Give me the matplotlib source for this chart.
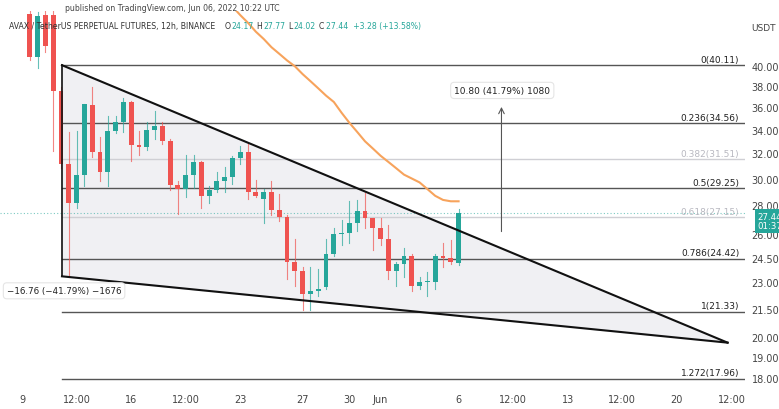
import numpy as np
import matplotlib.pyplot as plt
from matplotlib.ticker import FixedLocator, NullLocator

# 12h candles, index 0 = May 9 00:00
idx = list(range(1, 57))
opens = [45.7, 41.0, 45.6, 45.6, 37.5, 31.1, 28.2, 30.3, 36.2, 32.1, 30.5, 33.9, 34.7, 36.5,
         32.7, 32.5, 34.0, 34.3, 33.0, 29.5, 29.2, 30.3, 31.3, 28.7, 29.1, 29.8, 30.1, 31.6,
         32.1, 29.0, 28.5, 29.0, 27.7, 27.2, 24.2, 23.7, 22.3, 22.5, 22.7, 24.7, 26.0, 26.1,
         26.8, 27.6, 27.1, 26.4, 25.7, 23.7, 24.1, 24.6, 22.8, 23.0, 23.0, 24.6, 24.5, 24.17]
highs = [46.5, 46.0, 46.2, 46.5, 37.9, 33.8, 33.9, 36.3, 37.9, 33.4, 35.2, 35.2, 36.9, 36.6,
         33.9, 34.7, 35.7, 34.7, 33.2, 29.8, 31.9, 31.9, 31.4, 29.4, 30.5, 30.9, 31.8, 32.6,
         32.9, 29.9, 29.2, 29.8, 28.8, 27.3, 25.7, 23.9, 23.9, 23.8, 25.7, 26.4, 27.0, 28.3,
         28.4, 28.9, 27.1, 27.1, 26.6, 24.2, 25.1, 24.7, 23.3, 23.6, 24.7, 25.4, 25.6, 27.77]
lows = [40.6, 39.8, 41.5, 32.2, 30.8, 23.3, 27.8, 29.4, 31.7, 29.8, 29.4, 33.7, 33.8, 31.4,
        31.9, 32.3, 33.2, 32.8, 29.1, 27.4, 28.6, 29.3, 27.8, 28.2, 29.0, 29.0, 29.6, 31.1,
        28.5, 28.6, 26.8, 27.3, 26.9, 23.2, 22.8, 21.4, 21.4, 22.2, 22.6, 24.6, 25.3, 25.4,
        26.2, 26.4, 25.0, 25.3, 23.2, 22.8, 23.3, 22.5, 22.6, 22.2, 22.6, 23.9, 24.1, 24.02]
closes = [41.0, 45.5, 42.1, 37.5, 31.1, 28.2, 30.3, 36.3, 32.1, 30.5, 33.9, 34.7, 36.5, 32.7,
          32.5, 34.0, 34.3, 33.0, 29.5, 29.2, 30.3, 31.3, 28.7, 29.1, 29.8, 30.1, 31.6, 32.1,
          29.0, 28.7, 29.0, 27.7, 27.2, 24.2, 23.7, 22.3, 22.5, 22.6, 24.7, 26.0, 26.1, 26.8,
          27.6, 27.1, 26.4, 25.7, 23.7, 24.1, 24.6, 22.8, 23.0, 23.0, 24.6, 24.5, 24.2, 27.44]

ma_idx = list(range(27, 57))
ma_vals = [46.6, 45.6, 44.7, 43.7, 42.9, 42.0, 41.3, 40.6, 40.0, 39.2, 38.5, 37.8, 37.1, 36.5, 35.5,
           34.6, 33.8, 33.0, 32.4, 31.8, 31.3, 30.8, 30.3, 30.0, 29.7, 29.2, 28.7, 28.4, 28.3, 28.3]

fib_levels = [40.11, 34.56, 31.51, 29.25, 27.15, 24.42, 21.33, 17.96]
fib_labels = ['0(40.11)', '0.236(34.56)', '0.382(31.51)', '0.5(29.25)', '0.618(27.15)',
              '0.786(24.42)', '1(21.33)', '1.272(17.96)']
fib_faint = [False, False, True, False, True, False, False, False]

wedge_start = 5.13
wedge_top = 40.11
wedge_bottom = 23.35
wedge_tip = (90.5, 19.7)

yticks = [40, 38, 36, 34, 32, 30, 28, 26, 24.5, 23, 21.5, 20, 19, 18]
xtick_pos = [0, 7, 14, 21, 28, 36, 42, 46, 56, 63, 70, 77, 84, 91]
xtick_lab = ['9', '12:00', '16', '12:00', '23', '27', '30', 'Jun', '6', '12:00', '13', '12:00', '20', '12:00']

GREEN = '#26a69a'
RED = '#ef5350'

fig = plt.figure(figsize=(7.79, 4.10), dpi=100)
ax = fig.add_axes([0, 0.054, 0.956, 0.916])
ax.set_yscale('log')
ax.set_xlim(-2.82, 92.7)
ax.set_ylim(17.59, 46.05)

# wedge
ax.fill([wedge_start, wedge_start, wedge_tip[0]], [wedge_top, wedge_bottom, wedge_tip[1]],
        color='#f0f0f3', zorder=0)
ax.plot([wedge_start, wedge_tip[0]], [wedge_top, wedge_tip[1]], color='#111', lw=1.5, zorder=3)
ax.plot([wedge_start, wedge_tip[0]], [wedge_bottom, wedge_tip[1]], color='#111', lw=1.5, zorder=3)
ax.plot([wedge_start, wedge_start], [wedge_top, wedge_bottom], color='#111', lw=1.2, zorder=3)

# fib retracement
for lv, lab, faint in zip(fib_levels, fib_labels, fib_faint):
    c = '#cfcfd4' if faint else '#555'
    ax.plot([wedge_start, 92.7], [lv, lv], color=c, lw=1.0, zorder=1)
    ax.text(92.0, lv * 1.004, lab, ha='right', va='bottom', fontsize=6.5,
            color='#b8b8c0' if faint else '#222', zorder=5)

# candles
for i, o, h, l, c in zip(idx, opens, highs, lows, closes):
    col = GREEN if c >= o else RED
    ax.plot([i, i], [l, h], color=col, lw=0.8, alpha=0.7, zorder=2)
    ax.bar(i, abs(c - o) if abs(c - o) > 0.05 else 0.08, bottom=min(o, c), width=0.62,
           color=col, zorder=2.5)

# moving average
ax.plot(ma_idx, ma_vals, color='#f7a35c', lw=1.5, zorder=4)

# current price line
ax.axhline(27.44, color=GREEN, lw=0.8, ls=(0, (1, 2)), alpha=0.6, zorder=1)

# price range measure
ax.annotate('', xy=(61.5, 36.3), xytext=(61.5, 26.0),
            arrowprops=dict(arrowstyle='->', color='#555', lw=0.8))
ax.text(61.6, 37.6, '10.80 (41.79%) 1080', ha='center', va='center', fontsize=6.5, color='#222',
        bbox=dict(boxstyle='round,pad=0.4', fc='white', ec='#e5e5e5', lw=0.8))
ax.text(5.4, 22.5, '\u221216.76 (\u221241.79%) \u22121676', ha='center', va='center', fontsize=6.3,
        color='#222', bbox=dict(boxstyle='round,pad=0.4', fc='white', ec='#e5e5e5', lw=0.8))

# axes styling
for s in ax.spines.values():
    s.set_visible(False)
ax.yaxis.tick_right()
ax.yaxis.set_major_locator(FixedLocator(yticks))
ax.yaxis.set_minor_locator(NullLocator())
ax.set_yticklabels(['%.2f' % t for t in yticks], fontsize=7, color='#444')
ax.set_xticks(xtick_pos)
ax.set_xticklabels(xtick_lab, fontsize=7, color='#444')
ax.tick_params(length=0, pad=5)

ax.text(94.3, 26.9, '27.44\n01:37:4', fontsize=6.2, color='white', ha='left', va='center',
        linespacing=1.1, bbox=dict(boxstyle='square,pad=0.3', fc=GREEN, ec='none'),
        clip_on=False)

hy = 0.935
fs = 5.6
fig.text(0.012, hy, 'AVAX / TetherUS PERPETUAL FUTURES, 12h, BINANCE', fontsize=fs, color='#333', va='center')
fig.text(0.288, hy, 'O', fontsize=fs, color='#333', va='center')
fig.text(0.297, hy, '24.17', fontsize=fs, color=GREEN, va='center')
fig.text(0.329, hy, 'H', fontsize=fs, color='#333', va='center')
fig.text(0.338, hy, '27.77', fontsize=fs, color=GREEN, va='center')
fig.text(0.370, hy, 'L', fontsize=fs, color='#333', va='center')
fig.text(0.377, hy, '24.02', fontsize=fs, color=GREEN, va='center')
fig.text(0.409, hy, 'C', fontsize=fs, color='#333', va='center')
fig.text(0.418, hy, '27.44  +3.28 (+13.58%)', fontsize=fs, color=GREEN, va='center')
fig.text(0.083, 0.98, 'published on TradingView.com, Jun 06, 2022 10:22 UTC', fontsize=fs,
         color='#444', va='center')
fig.text(0.965, 0.93, 'USDT', fontsize=6.5, color='#444', va='center')

fig.savefig('out.png', dpi=100)
